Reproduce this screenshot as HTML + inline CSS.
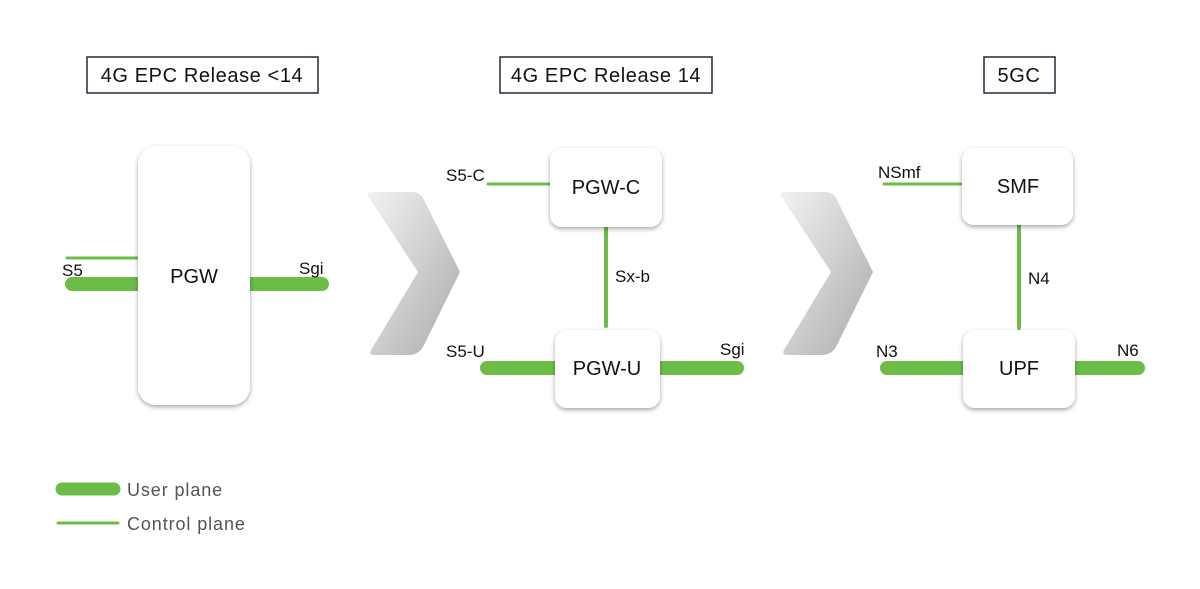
<!DOCTYPE html>
<html><head><style>
html,body{margin:0;padding:0;background:#fff;}
svg{display:block;}
text{font-family:"Liberation Sans",sans-serif;}
</style></head><body>
<svg width="1200" height="589" viewBox="0 0 1200 589">
<defs>
<filter id="sh" x="-20%" y="-20%" width="140%" height="140%"><feDropShadow dx="0" dy="2" stdDeviation="2.5" flood-color="#000" flood-opacity="0.35"/></filter>
<linearGradient id="cg" x1="0" y1="0" x2="1" y2="1"><stop offset="0" stop-color="#f2f2f2"/><stop offset="0.5" stop-color="#cfcfcf"/><stop offset="1" stop-color="#a9a9a9"/></linearGradient>
</defs>
<g fill="none" stroke="#1e2a38" stroke-width="1.5">
<rect x="87" y="57" width="231" height="36"/>
<rect x="500" y="57" width="212" height="36"/>
<rect x="984" y="57" width="71" height="36"/>
</g>
<g font-size="20" fill="#111" text-anchor="middle" letter-spacing="0.6">
<text x="202" y="82">4G EPC Release &lt;14</text>
<text x="606" y="82">4G EPC Release 14</text>
<text x="1019" y="82">5GC</text>
</g>
<g stroke="#6bbd48" stroke-linecap="round">
<line x1="67" y1="258" x2="140" y2="258" stroke-width="3"/>
<line x1="72" y1="284" x2="140" y2="284" stroke-width="14"/>
<line x1="248" y1="284" x2="322" y2="284" stroke-width="14"/>
<line x1="488" y1="184" x2="552" y2="184" stroke-width="3"/>
<line x1="606" y1="225" x2="606" y2="326" stroke-width="4"/>
<line x1="487" y1="368" x2="557" y2="368" stroke-width="14"/>
<line x1="658" y1="368" x2="737" y2="368" stroke-width="14"/>
<line x1="884" y1="184" x2="964" y2="184" stroke-width="3"/>
<line x1="1019" y1="223" x2="1019" y2="328" stroke-width="4"/>
<line x1="887" y1="368" x2="965" y2="368" stroke-width="14"/>
<line x1="1073" y1="368" x2="1138" y2="368" stroke-width="14"/>
<line x1="62" y1="489" x2="114" y2="489" stroke-width="13"/>
<line x1="58" y1="523" x2="118" y2="523" stroke-width="3"/>
</g>
<g fill="#fff" filter="url(#sh)">
<rect x="138" y="146" width="112" height="259" rx="18"/>
<rect x="550" y="148" width="112" height="79" rx="12"/>
<rect x="555" y="330" width="105" height="78" rx="12"/>
<rect x="962" y="148" width="111" height="77" rx="12"/>
<rect x="963" y="330" width="112" height="78" rx="12"/>
</g>
<path d="M368 196 Q366 192 372 192 L412 192 Q420 192 424 200 L460 272 L424 345 Q420 354 410 355 L374 355 Q368 355 371 350 L418 272 Z" fill="url(#cg)"/>
<path d="M781 196 Q779 192 785 192 L825 192 Q833 192 837 200 L873 272 L837 345 Q833 354 823 355 L787 355 Q781 355 784 350 L831 272 Z" fill="url(#cg)"/>
<g font-size="20" fill="#111" text-anchor="middle">
<text x="194" y="283">PGW</text>
<text x="606" y="194">PGW-C</text>
<text x="607" y="375">PGW-U</text>
<text x="1018" y="193">SMF</text>
<text x="1019" y="375">UPF</text>
</g>
<g font-size="17" fill="#111">
<text x="62" y="276">S5</text>
<text x="299" y="274">Sgi</text>
<text x="446" y="181">S5-C</text>
<text x="615" y="282">Sx-b</text>
<text x="446" y="357">S5-U</text>
<text x="720" y="355">Sgi</text>
<text x="878" y="178">NSmf</text>
<text x="1028" y="284">N4</text>
<text x="876" y="357">N3</text>
<text x="1117" y="356">N6</text>
</g>
<g font-size="18" fill="#555" letter-spacing="0.9">
<text x="127" y="496">User plane</text>
<text x="127" y="530">Control plane</text>
</g>
</svg>
</body></html>
